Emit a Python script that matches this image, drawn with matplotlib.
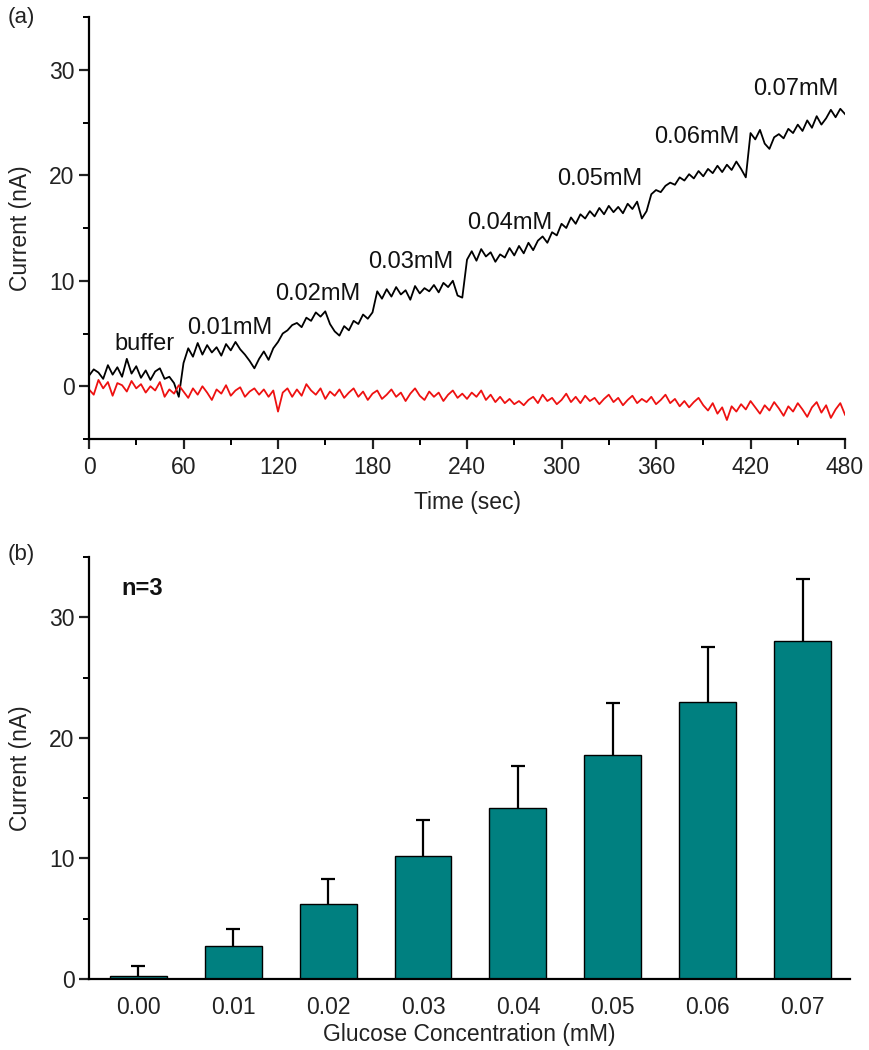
import numpy as np
import matplotlib
matplotlib.use("Agg")
import matplotlib.pyplot as plt
from matplotlib.ticker import MultipleLocator

plt.rcParams['font.family'] = ['Liberation Sans', 'DejaVu Sans']

# ---------------- data: panel (a) ----------------
dt = 3  # sampling interval (s)
glucose_current = [
    1.0, 1.6, 1.3, 0.7, 2.0, 1.1, 1.8, 0.9, 2.6, 1.2, 1.9, 0.8, 1.5, 0.6, 1.4, 1.7, 0.7, 0.9, 0.3, -1.0,
    2.2, 3.6, 2.8, 4.1, 3.0, 3.9, 3.2, 3.7, 2.9, 4.0, 3.4, 4.2, 3.5, 3.0, 2.4, 1.7, 2.6, 3.3, 2.5, 3.6,
    4.2, 5.0, 5.3, 5.8, 6.0, 5.6, 6.5, 6.2, 7.0, 6.6, 7.1, 5.9, 5.2, 4.8, 5.7, 5.3, 6.2, 5.9, 6.8, 6.4, 7.0,
    9.0, 8.3, 9.2, 8.5, 9.4, 8.7, 9.1, 8.2, 9.5, 8.8, 9.3, 9.0, 9.6, 8.9, 9.8, 9.4, 10.0, 8.6, 8.4,
    12.0, 12.8, 11.9, 13.0, 12.3, 12.7, 11.8, 12.5, 12.2, 13.1, 12.4, 13.3, 12.6, 13.6, 12.9, 13.8, 14.2, 13.6, 14.6, 14.3,
    15.4, 15.0, 16.0, 15.4, 16.3, 15.9, 16.6, 16.1, 16.9, 16.3, 17.1, 16.5, 17.0, 16.4, 17.3, 16.8, 17.5, 15.9, 16.6,
    18.2, 18.6, 18.4, 19.0, 19.3, 19.1, 19.8, 19.5, 20.1, 19.7, 20.4, 19.9, 20.6, 20.2, 20.9, 20.3, 21.0, 20.5, 21.3, 20.6, 19.8,
    24.0, 23.4, 24.3, 23.0, 22.5, 23.6, 23.9, 23.5, 24.4, 24.0, 24.8, 24.2, 25.2, 24.5, 25.6, 24.8, 25.4, 26.2, 25.5, 26.3, 25.8,
]
control_current = [
    -0.3, -0.8, 0.6, -0.2, 0.4, -0.9, 0.3, 0.1, -0.5, 0.5, -0.2, 0.2, -0.6, 0.0, -0.4, 0.4, -1.0, -0.3, -0.7, 0.1,
    -0.5, -1.1, -0.2, -0.8, 0.0, -0.6, -1.3, -0.3, -0.7, 0.1, -0.9, -0.4, -0.1, -1.0, -0.5, -0.2, -0.8, -0.3, -1.0, -0.4,
    -2.4, -0.6, -0.2, -1.0, -0.3, -0.9, 0.2, -0.4, -0.8, -0.2, -1.2, -0.5, -0.9, -0.3, -1.1, -0.6, -0.2, -1.0, -0.5, -1.3, -0.7,
    -0.4, -1.2, -0.8, -0.3, -1.0, -0.6, -1.4, -0.7, -0.2, -0.9, -1.3, -0.5, -1.0, -0.6, -1.4, -0.8, -0.4, -1.1, -0.7,
    -1.2, -0.6, -1.0, -0.4, -1.3, -0.8, -1.5, -1.0, -1.6, -1.2, -1.7, -1.4, -1.8, -1.3, -1.0, -1.6, -0.8, -1.4, -1.1, -1.7,
    -1.3, -0.7, -1.5, -1.0, -1.6, -0.9, -1.4, -1.1, -1.7, -1.2, -0.8, -1.5, -1.1, -1.8, -1.3, -0.9, -1.6, -1.2, -1.5,
    -1.0, -1.7, -1.3, -0.8, -1.6, -1.2, -1.9, -1.4, -2.0, -1.5, -1.1, -1.8, -2.3, -1.6, -2.6, -2.0, -3.2, -1.9, -2.4, -1.7, -2.2,
    -1.4, -2.0, -2.6, -1.8, -2.3, -1.5, -2.1, -2.8, -1.9, -2.4, -1.6, -2.2, -2.9, -2.0, -1.5, -2.5, -1.8, -3.0, -2.2, -1.6, -2.7,
]
step_labels = ["buffer", "0.01mM", "0.02mM", "0.03mM", "0.04mM", "0.05mM", "0.06mM", "0.07mM"]
step_label_t = [35, 89.5, 145, 204, 267, 324, 386, 449]
step_label_y = [4.0, 5.5, 8.7, 11.8, 15.5, 19.6, 23.6, 28.2]

# ---------------- data: panel (b) ----------------
conc_labels = ["0.00", "0.01", "0.02", "0.03", "0.04", "0.05", "0.06", "0.07"]
mean_current = [0.25, 2.75, 6.25, 10.2, 14.2, 18.6, 23.0, 28.0]
sd_current = [0.85, 1.4, 2.05, 3.0, 3.5, 4.3, 4.5, 5.2]

time_s = np.arange(len(glucose_current)) * dt

fig = plt.figure(figsize=(8.7, 10.5), dpi=100)
ax1 = fig.add_axes([0.1023, 0.5819, 0.869, 0.4019])
ax2 = fig.add_axes([0.1023, 0.0676, 0.8747, 0.4019])

TFS = 16.5   # tick labels
LFS = 16.5   # axis labels
AFS = 17     # annotations
TXT = "#222222"
for ax in (ax1, ax2):
    for s in ("top", "right"):
        ax.spines[s].set_visible(False)
    for s in ("left", "bottom"):
        ax.spines[s].set_linewidth(1.6)
    ax.tick_params(which="major", direction="out", length=7, width=1.6, labelsize=TFS, colors=TXT)
    ax.tick_params(which="minor", direction="out", length=4.5, width=1.4)

# panel (a)
ax1.plot(time_s, glucose_current, color="black", lw=1.3)
ax1.plot(time_s, control_current, color="#ee1111", lw=1.3)
ax1.set_xlim(0, 480)
ax1.set_ylim(-5, 35)
ax1.xaxis.set_major_locator(MultipleLocator(60))
ax1.xaxis.set_minor_locator(MultipleLocator(30))
ax1.yaxis.set_major_locator(MultipleLocator(10))
ax1.yaxis.set_minor_locator(MultipleLocator(5))
ax1.set_yticks([0, 10, 20, 30])
ax1.tick_params(axis="x", pad=5)
ax1.set_xlabel("Time (sec)", fontsize=LFS, color=TXT, labelpad=9)
ax1.set_ylabel("Current (nA)", fontsize=LFS, color=TXT, labelpad=12)
for lab, tx, ty in zip(step_labels, step_label_t, step_label_y):
    ax1.text(tx, ty, lab, ha="center", va="center", fontsize=AFS, color="#111111")
fig.text(0.009, 0.983, "(a)", fontsize=16, ha="left", va="center", color=TXT)

# panel (b)
pos = np.arange(len(conc_labels))
ax2.errorbar(pos, mean_current, yerr=sd_current, fmt="none",
             ecolor="black", elinewidth=1.6, capsize=5, capthick=1.6, zorder=1)
ax2.bar(pos, mean_current, width=0.6, color="#008080", edgecolor="black", linewidth=1.0, zorder=2)
ax2.set_xlim(-0.52, 7.5)
ax2.set_ylim(0, 35)
ax2.set_xticks(pos)
ax2.set_xticklabels(conc_labels)
ax2.tick_params(axis="x", which="both", length=0, pad=12)
ax2.yaxis.set_major_locator(MultipleLocator(10))
ax2.yaxis.set_minor_locator(MultipleLocator(5))
ax2.set_yticks([0, 10, 20, 30])
ax2.set_xlabel("Glucose Concentration (mM)", fontsize=LFS, color=TXT, labelpad=3)
ax2.set_ylabel("Current (nA)", fontsize=LFS, color=TXT, labelpad=12)
ax2.text(0.043, 0.925, "n=3", transform=ax2.transAxes, fontsize=17, fontweight="bold",
         ha="left", va="center", color="#111111")
fig.text(0.009, 0.472, "(b)", fontsize=16, ha="left", va="center", color=TXT)

fig.savefig("out.png", dpi=100)
